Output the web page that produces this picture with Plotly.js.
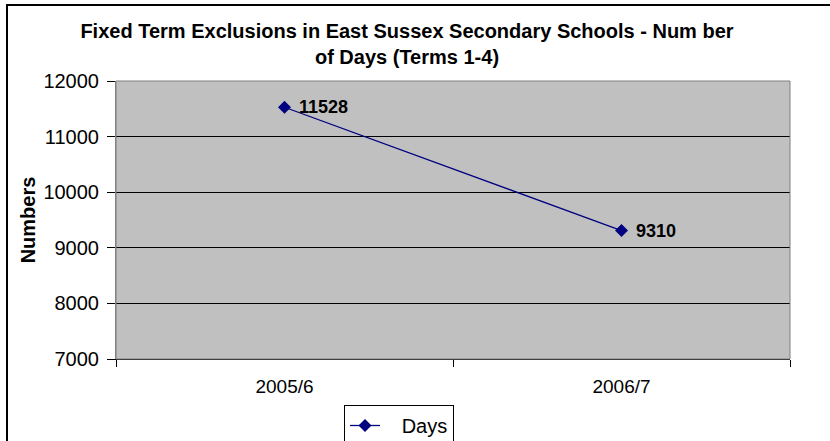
<!DOCTYPE html>
<html>
<head>
<meta charset="utf-8">
<script src="https://cdn.plot.ly/plotly-3.0.1.min.js"></script>
<style>
  html, body { margin: 0; padding: 0; background: #ffffff; }
  #chart { width: 830px; height: 441px; }
</style>
</head>
<body>
<div id="chart"></div>
<script>
// Fixed term exclusions, East Sussex secondary schools (days, terms 1-4)
const years = ['2005/6', '2006/7'];
const days = [11528, 9310];
const yTicks = [7000, 8000, 9000, 10000, 11000, 12000];

const W = 830, H = 441;
const margin = { l: 116, r: 40, t: 81, b: 82, autoexpand: false };
const plotW = W - margin.l - margin.r;
const plotH = H - margin.t - margin.b;
// pixel -> paper helpers for the outer chart frame and legend
const px = x => (x - margin.l) / plotW;
const py = y => (H - margin.b - y) / plotH;

const FONT = 'Arial, Liberation Sans, sans-serif';

const trace = {
  type: 'scatter',
  mode: 'lines+markers',
  name: '\u00a0\u00a0\u00a0Days',
  x: years,
  y: days,
  line: { color: '#000080', width: 1.3 },
  marker: { symbol: 'diamond', size: 10, color: '#000080' },
  cliponaxis: false
};

const labels = years.map((yr, i) => ({
  x: yr, y: days[i], xref: 'x', yref: 'y',
  text: '<b>' + days[i] + '</b>',
  showarrow: false, xanchor: 'left', yanchor: 'middle',
  xshift: 12,
  font: { family: FONT, size: 18, color: '#000000' }
}));

const layout = {
  width: W, height: H,
  margin: margin,
  paper_bgcolor: '#ffffff',
  plot_bgcolor: '#c0c0c0',
  showlegend: true,
  font: { family: FONT, color: '#000000' },
  title: {
    text: '<b>Fixed Term Exclusions in East Sussex Secondary Schools - Num ber<br>of Days (Terms 1-4)</b>',
    font: { size: 20, family: FONT, color: '#000000' },
    x: px(407), xanchor: 'center', xref: 'paper',
    y: 1 - 38 / H, yanchor: 'top', yref: 'container'
  },
  xaxis: {
    type: 'category',
    range: [-0.5, 1.5],
    tickson: 'boundaries',
    ticks: 'outside', ticklen: 7, tickcolor: '#000000', tickwidth: 1,
    ticklabelstandoff: 10,
    showline: true, linecolor: '#000000', linewidth: 1,
    showgrid: false, zeroline: false,
    tickfont: { size: 19, color: '#000000' }
  },
  yaxis: {
    range: [7000, 12000],
    tickvals: yTicks,
    ticktext: yTicks.map(String),
    ticks: 'outside', ticklen: 8, tickcolor: '#000000', tickwidth: 1,
    ticklabelstandoff: 4,
    showline: true, linecolor: '#808080', linewidth: 1,
    showgrid: true, gridcolor: '#000000', gridwidth: 1,
    zeroline: false,
    tickfont: { size: 20, color: '#000000' },
    title: {
      text: '<b>Numbers</b>',
      font: { size: 20, color: '#000000' },
      standoff: 2
    }
  },
  legend: {
    x: px(344), y: py(405), xanchor: 'left', yanchor: 'top',
    bgcolor: '#ffffff', bordercolor: '#000000', borderwidth: 1,
    font: { size: 20, color: '#000000' },
    itemwidth: 30
  },
  shapes: [
    // plot area border
    { type: 'rect', xref: 'paper', yref: 'paper', x0: 0, x1: 1, y0: 0, y1: 1,
      line: { color: '#808080', width: 1 }, layer: 'above' },
    // outer chart frame
    { type: 'rect', xref: 'paper', yref: 'paper',
      x0: px(7), x1: px(845), y0: py(460), y1: py(5),
      line: { color: '#000000', width: 2 }, fillcolor: 'rgba(0,0,0,0)' }
  ],
  annotations: labels
};

Plotly.newPlot('chart', [trace], layout, { displayModeBar: false, staticPlot: true });
</script>
</body>
</html>
